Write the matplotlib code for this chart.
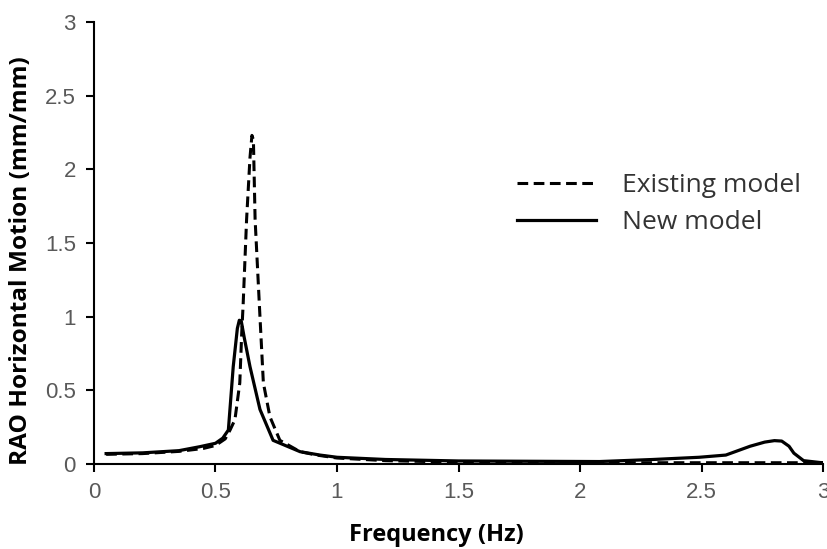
import numpy as np
import matplotlib.pyplot as plt

freq_existing = [0.05, 0.2, 0.35, 0.45, 0.5, 0.54, 0.56, 0.58, 0.60, 0.608, 0.614,
                 0.628, 0.642, 0.65, 0.656, 0.663, 0.683, 0.697, 0.724, 0.765, 0.848,
                 0.916, 1.0, 1.2, 1.5, 2.0, 2.5, 2.8, 3.0]
rao_existing = [0.065, 0.07, 0.085, 0.105, 0.125, 0.17, 0.23, 0.30, 0.55, 0.89, 1.09,
                1.66, 2.08, 2.23, 2.2, 1.66, 1.0, 0.55, 0.32, 0.16, 0.083,
                0.06, 0.04, 0.022, 0.012, 0.008, 0.008, 0.008, 0.008]

freq_new = [0.05, 0.2, 0.35, 0.436, 0.5, 0.53, 0.553, 0.573, 0.59, 0.598, 0.606, 0.618,
            0.642, 0.683, 0.737, 0.848, 0.93, 1.0, 1.2, 1.5, 2.08, 2.3, 2.49,
            2.6, 2.7, 2.76, 2.8, 2.83, 2.86, 2.88, 2.92, 2.99, 3.0]
rao_new = [0.07, 0.075, 0.09, 0.117, 0.14, 0.175, 0.23, 0.66, 0.92, 0.975, 0.97, 0.86,
           0.66, 0.37, 0.16, 0.083, 0.06, 0.045, 0.03, 0.02, 0.016, 0.03, 0.045,
           0.06, 0.12, 0.148, 0.158, 0.155, 0.12, 0.073, 0.022, 0.009, 0.008]

tick_vals = [0, 0.5, 1, 1.5, 2, 2.5, 3]
tick_labels = ["0", "0.5", "1", "1.5", "2", "2.5", "3"]

fig = plt.figure(figsize=(8.28, 5.49), dpi=100)
ax = fig.add_axes([0.1135, 0.155, 0.8805, 0.805])

ax.plot(freq_existing, rao_existing, color="black", lw=2.2, ls=(0, (3.5, 1.8)),
        label="Existing model")
ax.plot(freq_new, rao_new, color="black", lw=2.3, label="New model")

ax.set_xlim(0, 3)
ax.set_ylim(0, 3)
tick_font = dict(family="Liberation Sans", fontsize=16, color="#595959")
ax.set_xticks(tick_vals)
ax.set_yticks(tick_vals)
ax.set_xticklabels(tick_labels, **tick_font)
ax.set_yticklabels(tick_labels, **tick_font)
for s in ["top", "right"]:
    ax.spines[s].set_visible(False)
for s in ["left", "bottom"]:
    ax.spines[s].set_linewidth(1.5)
ax.tick_params(direction="out", length=6, width=1.5, colors="black", pad=7)
for lab in ax.get_xticklabels() + ax.get_yticklabels():
    lab.set_color("#595959")

ax.set_xlabel("Frequency (Hz)", family="Open Sans", fontweight="bold",
              fontsize=17)
ax.set_ylabel("RAO Horizontal Motion (mm/mm)", family="Open Sans",
              fontweight="bold", fontsize=17.6)
ax.xaxis.set_label_coords(0.469, -0.133)
ax.yaxis.set_label_coords(-0.084, 0.46)

leg = ax.legend(loc="upper left", bbox_to_anchor=(0.58, 0.658), frameon=False,
                prop={"family": "Open Sans", "size": 19}, handlelength=3.0,
                labelspacing=0.45, handletextpad=1.0, borderpad=0,
                borderaxespad=0, labelcolor="#333333")

fig.savefig("out.png", dpi=100)
